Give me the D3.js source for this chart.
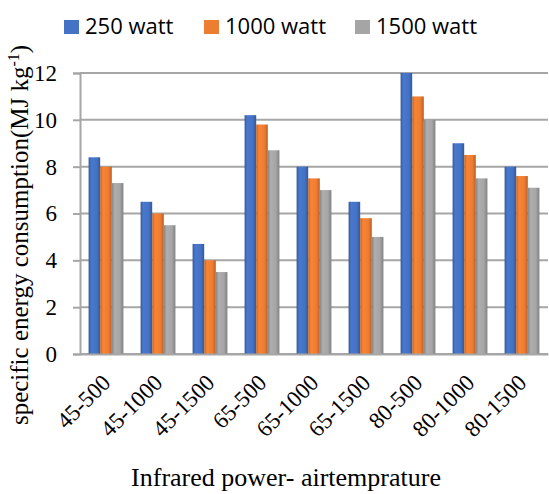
<!DOCTYPE html>
<html>
<head>
<meta charset="utf-8">
<script src="https://cdn.jsdelivr.net/npm/d3@7"></script>
<style>
body { margin: 0; background: #fff; }
</style>
</head>
<body>
<svg id="chart" width="549" height="494"></svg>
<script>
// categories and series
var categories = ["45-500", "45-1000", "45-1500", "65-500", "65-1000", "65-1500", "80-500", "80-1000", "80-1500"];
var seriesNames = ["250 watt", "1000 watt", "1500 watt"];
var watt250 = [8.4, 6.5, 4.7, 10.2, 8.0, 6.5, 12.0, 9.0, 8.0];
var watt1000 = [8.0, 6.0, 4.0, 9.8, 7.5, 5.8, 11.0, 8.5, 7.6];
var watt1500 = [7.3, 5.5, 3.5, 8.7, 7.0, 5.0, 10.0, 7.5, 7.1];
var yTicks = [0, 2, 4, 6, 8, 10, 12];

var colors = ["#4472C4", "#ED7D31", "#A5A5A5"];
var series = [watt250, watt1000, watt1500];
var serif = "'Liberation Serif', 'Times New Roman', serif";

var svg = d3.select("#chart");
var margin = {left: 80, top: 73, right: 1, bottom: 140};
var width = 549 - margin.left - margin.right;
var height = 494 - margin.top - margin.bottom;

// gradients for the shaded bars
var defs = svg.append("defs");
colors.forEach(function(c, i) {
	var g = defs.append("linearGradient").attr("id", "grad" + i)
		.attr("x1", "0%").attr("x2", "100%").attr("y1", "0%").attr("y2", "0%");
	var base = d3.color(c);
	g.append("stop").attr("offset", "0%").attr("stop-color", base.darker(0.6));
	g.append("stop").attr("offset", "25%").attr("stop-color", base.brighter(0.15));
	g.append("stop").attr("offset", "70%").attr("stop-color", base);
	g.append("stop").attr("offset", "100%").attr("stop-color", base.darker(0.7));
});

var g = svg.append("g").attr("transform", "translate(" + margin.left + "," + margin.top + ")");

var x = d3.scaleBand().domain(categories).range([0, width]).paddingInner(0.33).paddingOuter(0.165);
var xs = d3.scaleBand().domain(d3.range(3)).range([0, x.bandwidth()]);
var y = d3.scaleLinear().domain([0, 12]).range([height, 0]);

// gridlines
g.selectAll(".grid").data(yTicks).enter().append("line")
	.attr("x1", 0).attr("x2", width)
	.attr("y1", function(d) { return y(d); }).attr("y2", function(d) { return y(d); })
	.attr("stroke", "#a6a6a6").attr("stroke-width", 2);

// left axis
var yAxis = g.append("g").call(d3.axisLeft(y).tickValues(yTicks).tickSize(7).tickPadding(16));
yAxis.attr("font-family", serif).attr("font-size", 23);
yAxis.select(".domain").attr("stroke", "#a6a6a6").attr("stroke-width", 2);
yAxis.selectAll(".tick line").attr("stroke", "#a6a6a6").attr("stroke-width", 2);
yAxis.selectAll("text").style("font-family", serif)
	.style("font-size", "23px").attr("fill", "#000");

// bars
series.forEach(function(vals, si) {
	g.selectAll(".bar" + si).data(vals).enter().append("rect")
		.attr("x", function(d, i) { return x(categories[i]) + xs(si); })
		.attr("width", xs.bandwidth())
		.attr("y", function(d) { return y(d); })
		.attr("height", function(d) { return height - y(d); })
		.attr("fill", "url(#grad" + si + ")");
});

// bottom axis
var xAxis = g.append("g").attr("transform", "translate(0," + height + ")")
	.call(d3.axisBottom(x).tickSize(0).tickPadding(0));
xAxis.attr("font-family", serif).attr("font-size", 23);
xAxis.select(".domain").attr("stroke", "#a6a6a6").attr("stroke-width", 2);
xAxis.selectAll("text")
	.style("font-family", serif)
	.style("font-size", "23px").attr("fill", "#000")
	.attr("text-anchor", "end")
	.attr("y", 0)
	.attr("dy", 0)
	.attr("transform", "translate(6,30) rotate(-45)");

// axis titles
svg.append("text")
	.attr("x", 286).attr("y", 486)
	.attr("text-anchor", "middle")
	.style("font-family", serif)
	.style("font-size", "26px")
	.text("Infrared power- airtemprature");

var yt = svg.append("text")
	.attr("transform", "translate(28,235) rotate(-90)")
	.attr("text-anchor", "middle")
	.style("font-family", serif)
	.style("font-size", "25px");
yt.append("tspan").text("specific energy consumption(MJ kg");
yt.append("tspan").attr("dy", -9).style("font-size", "16px").text("-1");
yt.append("tspan").attr("dy", 9).text(")");

// legend
var legendX = [64, 204, 355];
var legend = svg.append("g");
legend.selectAll("rect").data(seriesNames).enter().append("rect")
	.attr("x", function(d, i) { return legendX[i]; })
	.attr("y", 20)
	.attr("width", 15).attr("height", 14)
	.attr("fill", function(d, i) { return colors[i]; });
legend.selectAll("text").data(seriesNames).enter().append("text")
	.attr("x", function(d, i) { return legendX[i] + 21; })
	.attr("y", 34)
	.style("font-family", "'Open Sans', 'Liberation Sans', sans-serif")
	.style("font-size", "22px")
	.attr("fill", "#000")
	.text(function(d) { return d; });
</script>
</body>
</html>
